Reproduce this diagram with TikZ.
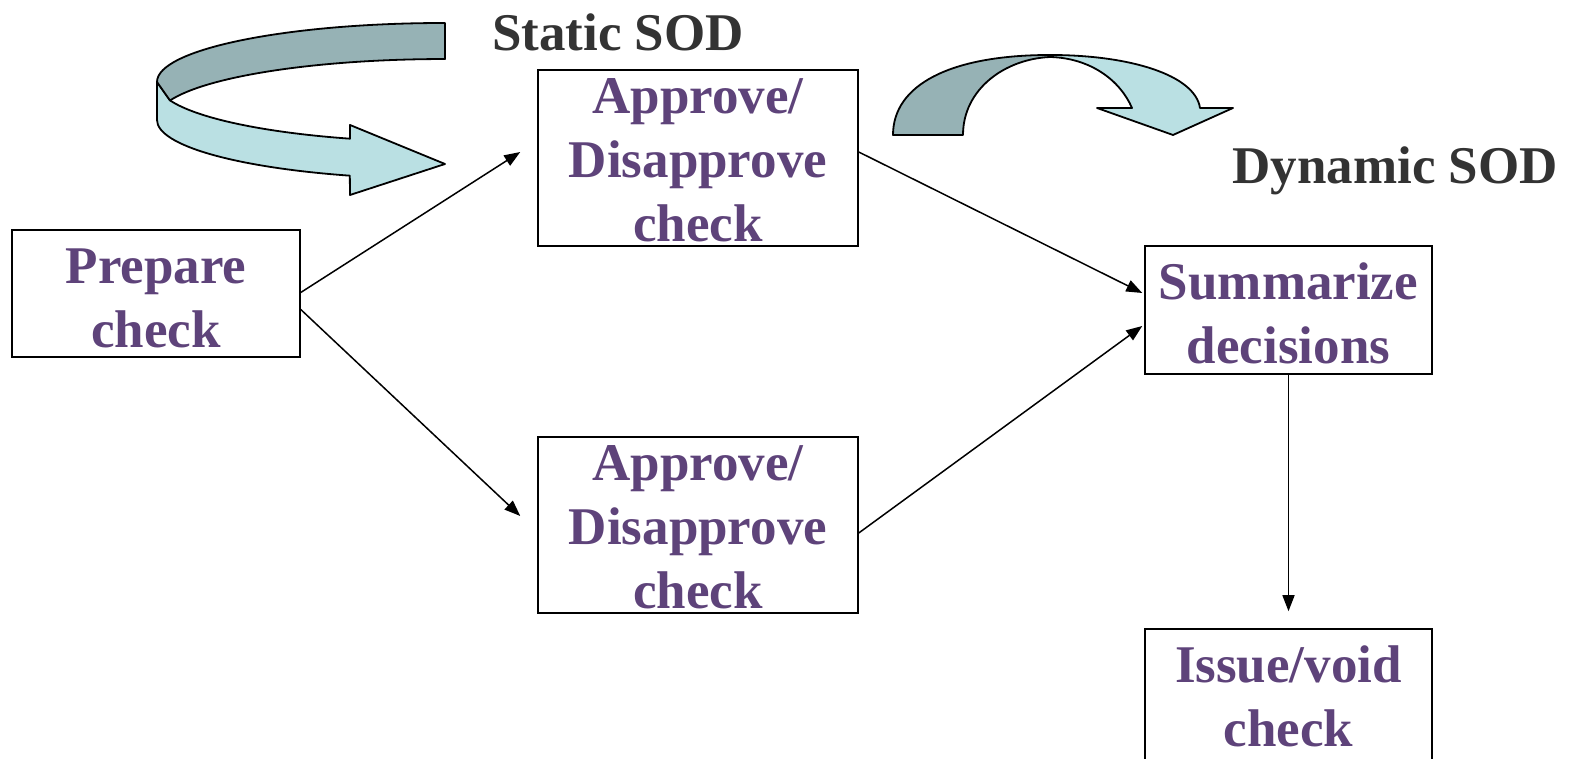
\documentclass[tikz,border=0pt]{standalone}
\usepackage{fontspec}
\setmainfont{Liberation Serif}
\usetikzlibrary{arrows.meta}
\definecolor{boxtext}{HTML}{5E437A}
\definecolor{labeltext}{HTML}{333333}
\definecolor{ribbondark}{HTML}{96B2B5}
\definecolor{ribbonlight}{HTML}{BAE0E3}
\begin{document}
\begin{tikzpicture}[x=1pt,y=1pt,
  stepbox/.style={draw, line width=1.5pt, fill=white, inner sep=0pt},
  steptext/.style={text=boxtext, font=\bfseries\fontsize{53}{64}\selectfont,
    align=center, inner sep=0pt},
  sodlabel/.style={text=labeltext, font=\bfseries\fontsize{53}{62}\selectfont, inner sep=0pt},
  flow/.style={line width=1.5pt, -{Triangle[length=16pt,width=12pt]}},
  ribbon/.style={draw, line width=1.8pt, line join=round}]
\useasboundingbox (0,0) rectangle (1573,759);
\clip (0,0) rectangle (1573,759);

% process steps: boxes
\node[stepbox, minimum width=288pt, minimum height=127pt] (prep) at (156,465.5) {};
\node[stepbox, minimum width=320pt, minimum height=176pt] (appA) at (698,601) {};
\node[stepbox, minimum width=320pt, minimum height=176pt] (appB) at (698,234) {};
\node[stepbox, minimum width=287pt, minimum height=128pt] (summ) at (1288.5,449) {};
\node[stepbox, minimum width=287pt, minimum height=138pt] (issue) at (1288.5,61) {};

% process steps: captions
\node[steptext] (prepT) at ([yshift=-5pt]prep.center) {Prepare\\check};
\node[steptext] (appAT) at ([yshift=-2pt]appA.center) {Approve/\\Disapprove\\check};
\node[steptext] (appBT) at ([yshift=-2pt]appB.center) {Approve/\\Disapprove\\check};
\node[steptext] (summT) at ([yshift=-3pt]summ.center) {Summarize\\decisions};
\node[steptext] (issueT) at ([yshift=2pt]issue.center) {Issue/void\\check};

% labels
\node[sodlabel] (static) at (618,727) {Static SOD};
\node[sodlabel, anchor=east] (dynamic) at (1558,588) {Dynamic SOD};

% connectors
\draw[flow] ([yshift=1pt]prep.east) -- ([xshift=-17pt,yshift=6pt]appA.west);
\draw[flow] ([yshift=-16pt]prep.east) -- ([xshift=-17pt,yshift=9pt]appB.west);
\draw[flow] ([yshift=6pt]appA.east) -- ([xshift=-2pt,yshift=17pt]summ.west);
\draw[flow] ([yshift=-8pt]appB.east) -- ([xshift=-2pt,yshift=-16pt]summ.west);
\draw[flow] (summ.south) -- ([yshift=17pt]issue.north);

% static SOD ribbon arrow: front (light) face
\path[ribbon, fill=ribbonlight] (157,677) -- (157,639)
  arc[start angle=180, end angle=250.7, x radius=288pt, y radius=59pt]
  -- (350,564) -- (445,595) -- (350,634) -- (350,620.3)
  arc[start angle=250.7, end angle=197.3, x radius=288pt, y radius=59pt]
  -- cycle;
% static SOD ribbon arrow: back (dark) face
\path[ribbon, fill=ribbondark] (445,700) -- (445,736)
  arc[start angle=90, end angle=180, x radius=288pt, y radius=59pt]
  -- (170,658.5)
  arc[start angle=162.7, end angle=90, x radius=288pt, y radius=59pt]
  -- cycle;

% dynamic SOD ribbon arrow
\path[ribbon, fill=ribbonlight] (1050,704)
  .. controls (1130,704) and (1195,684) .. (1200,651)
  -- (1233,651) -- (1173,624) -- (1097,651) -- (1132,651)
  .. controls (1120,679) and (1090,701) .. (1050,702) -- cycle;
\path[ribbon, fill=ribbondark] (893,624)
  .. controls (893,674) and (950,704) .. (1050,704)
  -- (1050,702)
  .. controls (1005,700) and (963,670) .. (963,624) -- cycle;
\end{tikzpicture}
\end{document}
